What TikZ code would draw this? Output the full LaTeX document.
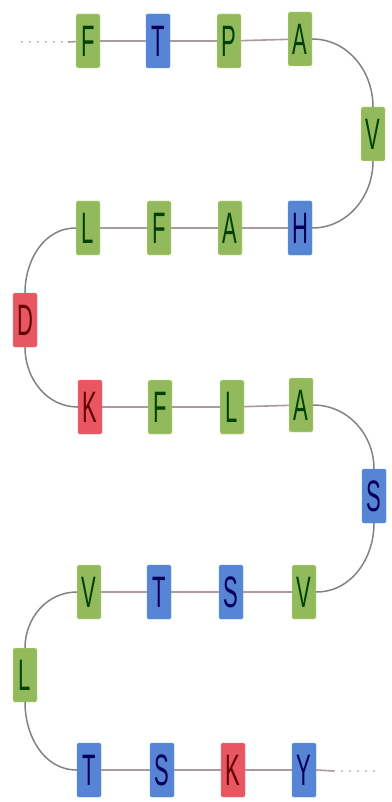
\documentclass[tikz,border=0pt]{standalone}
\usepackage{fontspec}
\setmainfont{Liberation Sans}
\usepackage{graphicx}
\definecolor{resgreen}{RGB}{146,186,92}
\definecolor{resblue}{RGB}{88,132,214}
\definecolor{resred}{RGB}{232,86,98}
\definecolor{resline}{RGB}{130,130,130}
\definecolor{reslink}{RGB}{170,152,162}
\tikzset{
  res box/.style={
    rectangle,rounded corners=1.5pt,minimum width=24pt,minimum height=54pt,
    inner sep=0pt,font=\fontsize{44}{44}\selectfont
  },
  res green/.style={res box,fill=resgreen,draw=resgreen!60!yellow!60,text=green!25!black},
  res blue/.style={res box,fill=resblue,draw=resblue!70!cyan,text=blue!35!black},
  res red/.style={res box,fill=resred,draw=resred!80!white,text=red!40!black},
  res edge/.style={reslink,line width=1.6pt},
  res turn/.style={resline,line width=1.5pt},
  res dots/.style={resline!70,line width=2pt,line cap=round,dash pattern=on 0pt off 8pt}
}
\newcommand{\resletter}[1]{\scalebox{0.5}[1]{#1}}

\begin{document}
\begin{tikzpicture}[x=1pt,y=-1pt]
  \useasboundingbox (0,0) rectangle (391,802);
  % first row
  \node[res green] (f1) at (88,41) {\resletter{F}};
  \node[res blue]  (t1) at (158,41) {\resletter{T}};
  \node[res green] (p1) at (229,41) {\resletter{P}};
  \node[res green] (a1) at (300,39) {\resletter{A}};
  \node[res green] (v1) at (373,134) {\resletter{V}};
  % second row
  \node[res green] (l2) at (88,228) {\resletter{L}};
  \node[res green] (f2) at (159,228) {\resletter{F}};
  \node[res green] (a2) at (230,228) {\resletter{A}};
  \node[res blue]  (h2) at (300,228) {\resletter{H}};
  \node[res red]   (d)  at (25,320) {\resletter{D}};
  % third row
  \node[res red]   (k3) at (90,407) {\resletter{K}};
  \node[res green] (f3) at (160,407) {\resletter{F}};
  \node[res green] (l3) at (232,407) {\resletter{L}};
  \node[res green] (a3) at (301,405) {\resletter{A}};
  \node[res blue]  (s)  at (374,496) {\resletter{S}};
  % fourth row
  \node[res green] (v4) at (89,592) {\resletter{V}};
  \node[res blue]  (t4) at (159,592) {\resletter{T}};
  \node[res blue]  (s4) at (231,592) {\resletter{S}};
  \node[res green] (w4) at (304,592) {\resletter{V}};
  \node[res green] (l5) at (25,675) {\resletter{L}};
  % last row
  \node[res blue]  (t5) at (89,770) {\resletter{T}};
  \node[res blue]  (s5) at (162,770) {\resletter{S}};
  \node[res red]   (k5) at (233,770) {\resletter{K}};
  \node[res blue]  (y5) at (304,770) {\resletter{Y}};

  \coordinate (inA) at (22,42);
  \coordinate (inB) at (68,42);
  \coordinate (outA) at (334,771);
  \coordinate (outB) at (380,771);

  \draw[res dots] (inA)--(inB);
  \draw[res edge] (inB)--(f1);
  \draw[res dots] (outA)--(outB);
  \draw[res edge] (f1)--(t1) (t1)--(p1) (p1)--(a1)
    (l2)--(f2) (f2)--(a2) (a2)--(h2)
    (k3)--(f3) (f3)--(l3) (l3)--(a3)
    (v4)--(t4) (t4)--(s4) (s4)--(w4)
    (t5)--(s5) (s5)--(k5) (k5)--(y5) (y5.east)--(outA);
  \draw[res turn] (a1.east) to[out=0,in=90] (v1.north);
  \draw[res turn] (v1.south) to[out=-90,in=0] (h2.east);
  \draw[res turn] (l2.west) to[out=180,in=90] (d.north);
  \draw[res turn] (d.south) to[out=-90,in=180] (k3.west);
  \draw[res turn] (a3.east) to[out=0,in=90] (s.north);
  \draw[res turn] (s.south) to[out=-90,in=0] (w4.east);
  \draw[res turn] (v4.west) to[out=180,in=90] (l5.north);
  \draw[res turn] (l5.south) to[out=-90,in=180] (t5.west);
\end{tikzpicture}
\end{document}
